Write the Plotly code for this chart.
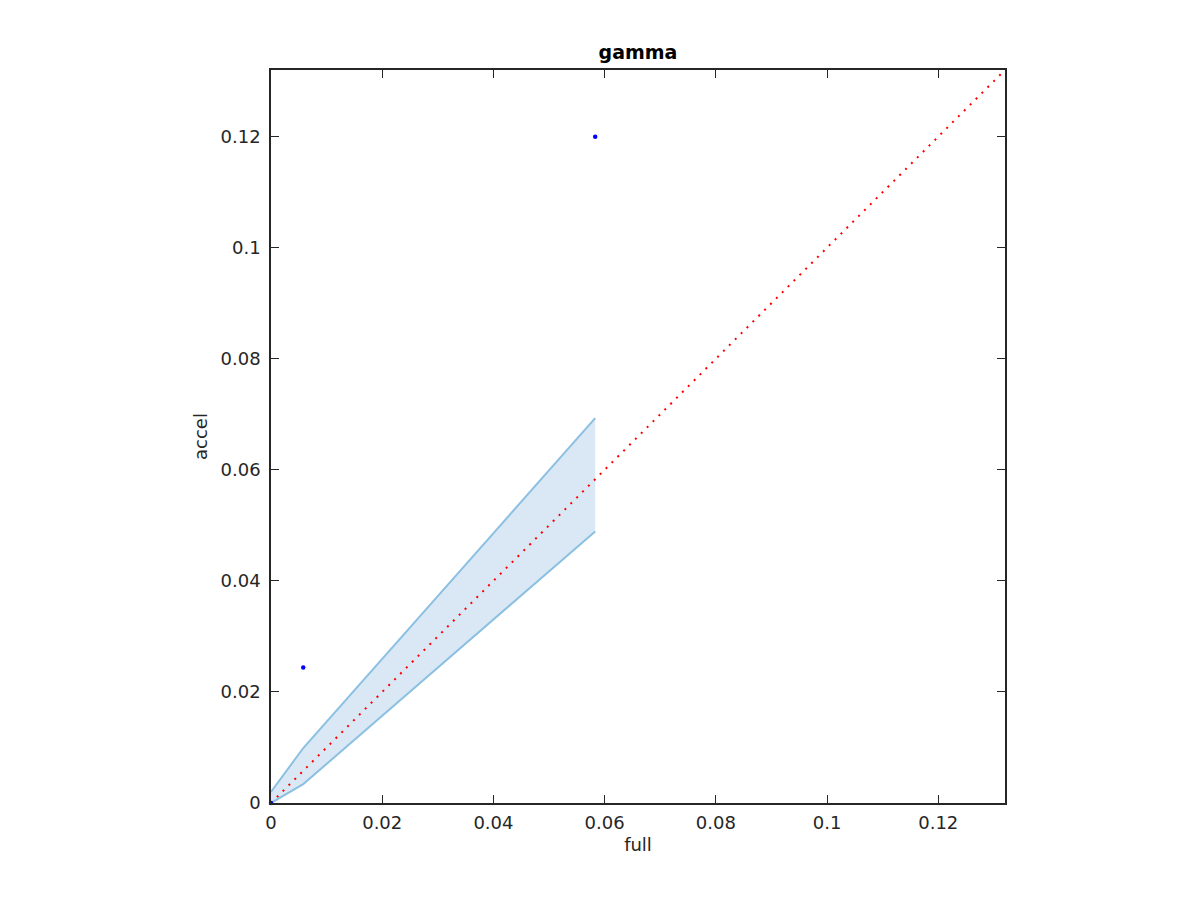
import plotly.graph_objects as go

full = [0.0, 0.0058, 0.0583]
accel = [0.0, 0.0244, 0.1200]
band_x = [0.0, 0.0058, 0.0583]
band_upper = [0.0020, 0.0099, 0.0693]
band_lower = [0.0, 0.0034, 0.0489]
diag = [0.0, 0.132]
ticks = [0, 0.02, 0.04, 0.06, 0.08, 0.1, 0.12]
tick_text = ["0", "0.02", "0.04", "0.06", "0.08", "0.1", "0.12"]

FONT = "DejaVu Sans"

fig = go.Figure()
fig.add_trace(go.Scatter(
    x=band_x + band_x[::-1], y=band_upper + band_lower[::-1],
    fill="toself", fillcolor="rgb(217,232,244)",
    line=dict(color="rgba(0,0,0,0)", width=0), mode="lines", hoverinfo="skip"))
fig.add_trace(go.Scatter(x=band_x, y=band_upper, mode="lines",
                         line=dict(color="rgb(140,192,226)", width=2)))
fig.add_trace(go.Scatter(x=band_x, y=band_lower, mode="lines",
                         line=dict(color="rgb(140,192,226)", width=2)))
fig.add_trace(go.Scatter(x=diag, y=diag, mode="lines",
                         line=dict(color="red", width=2, dash="2px,6.3px")))
fig.add_trace(go.Scatter(x=full, y=accel, mode="markers", cliponaxis=False,
                         marker=dict(color="blue", size=4.5)))

axis = dict(range=[0, 0.132], tickvals=ticks, ticktext=tick_text,
            showgrid=False, zeroline=False, showline=True, mirror="ticks",
            linecolor="#262626", linewidth=1.5, ticks="inside", ticklen=8,
            tickcolor="#262626", tickwidth=1,
            tickfont=dict(family=FONT, size=18, color="#262626"))

fig.update_layout(
    width=1200, height=900, showlegend=False,
    plot_bgcolor="white", paper_bgcolor="white",
    margin=dict(l=263, r=203, t=62, b=105),
    title=dict(text="<b>gamma</b>", x=(271 + 1005) / 2 / 1200 - 8 / 1200, xanchor="center",
               y=1 - 44 / 900, yanchor="middle",
               font=dict(family=FONT, size=19, color="black")),
    xaxis=dict(axis, ticklabelstandoff=3,
               title=dict(text="full", standoff=6,
                          font=dict(family=FONT, size=18, color="#262626"))),
    yaxis=dict(axis, ticklabelstandoff=5,
               title=dict(text="accel", standoff=8,
                          font=dict(family=FONT, size=18, color="#262626"))),
)
fig.write_html("out.html")
